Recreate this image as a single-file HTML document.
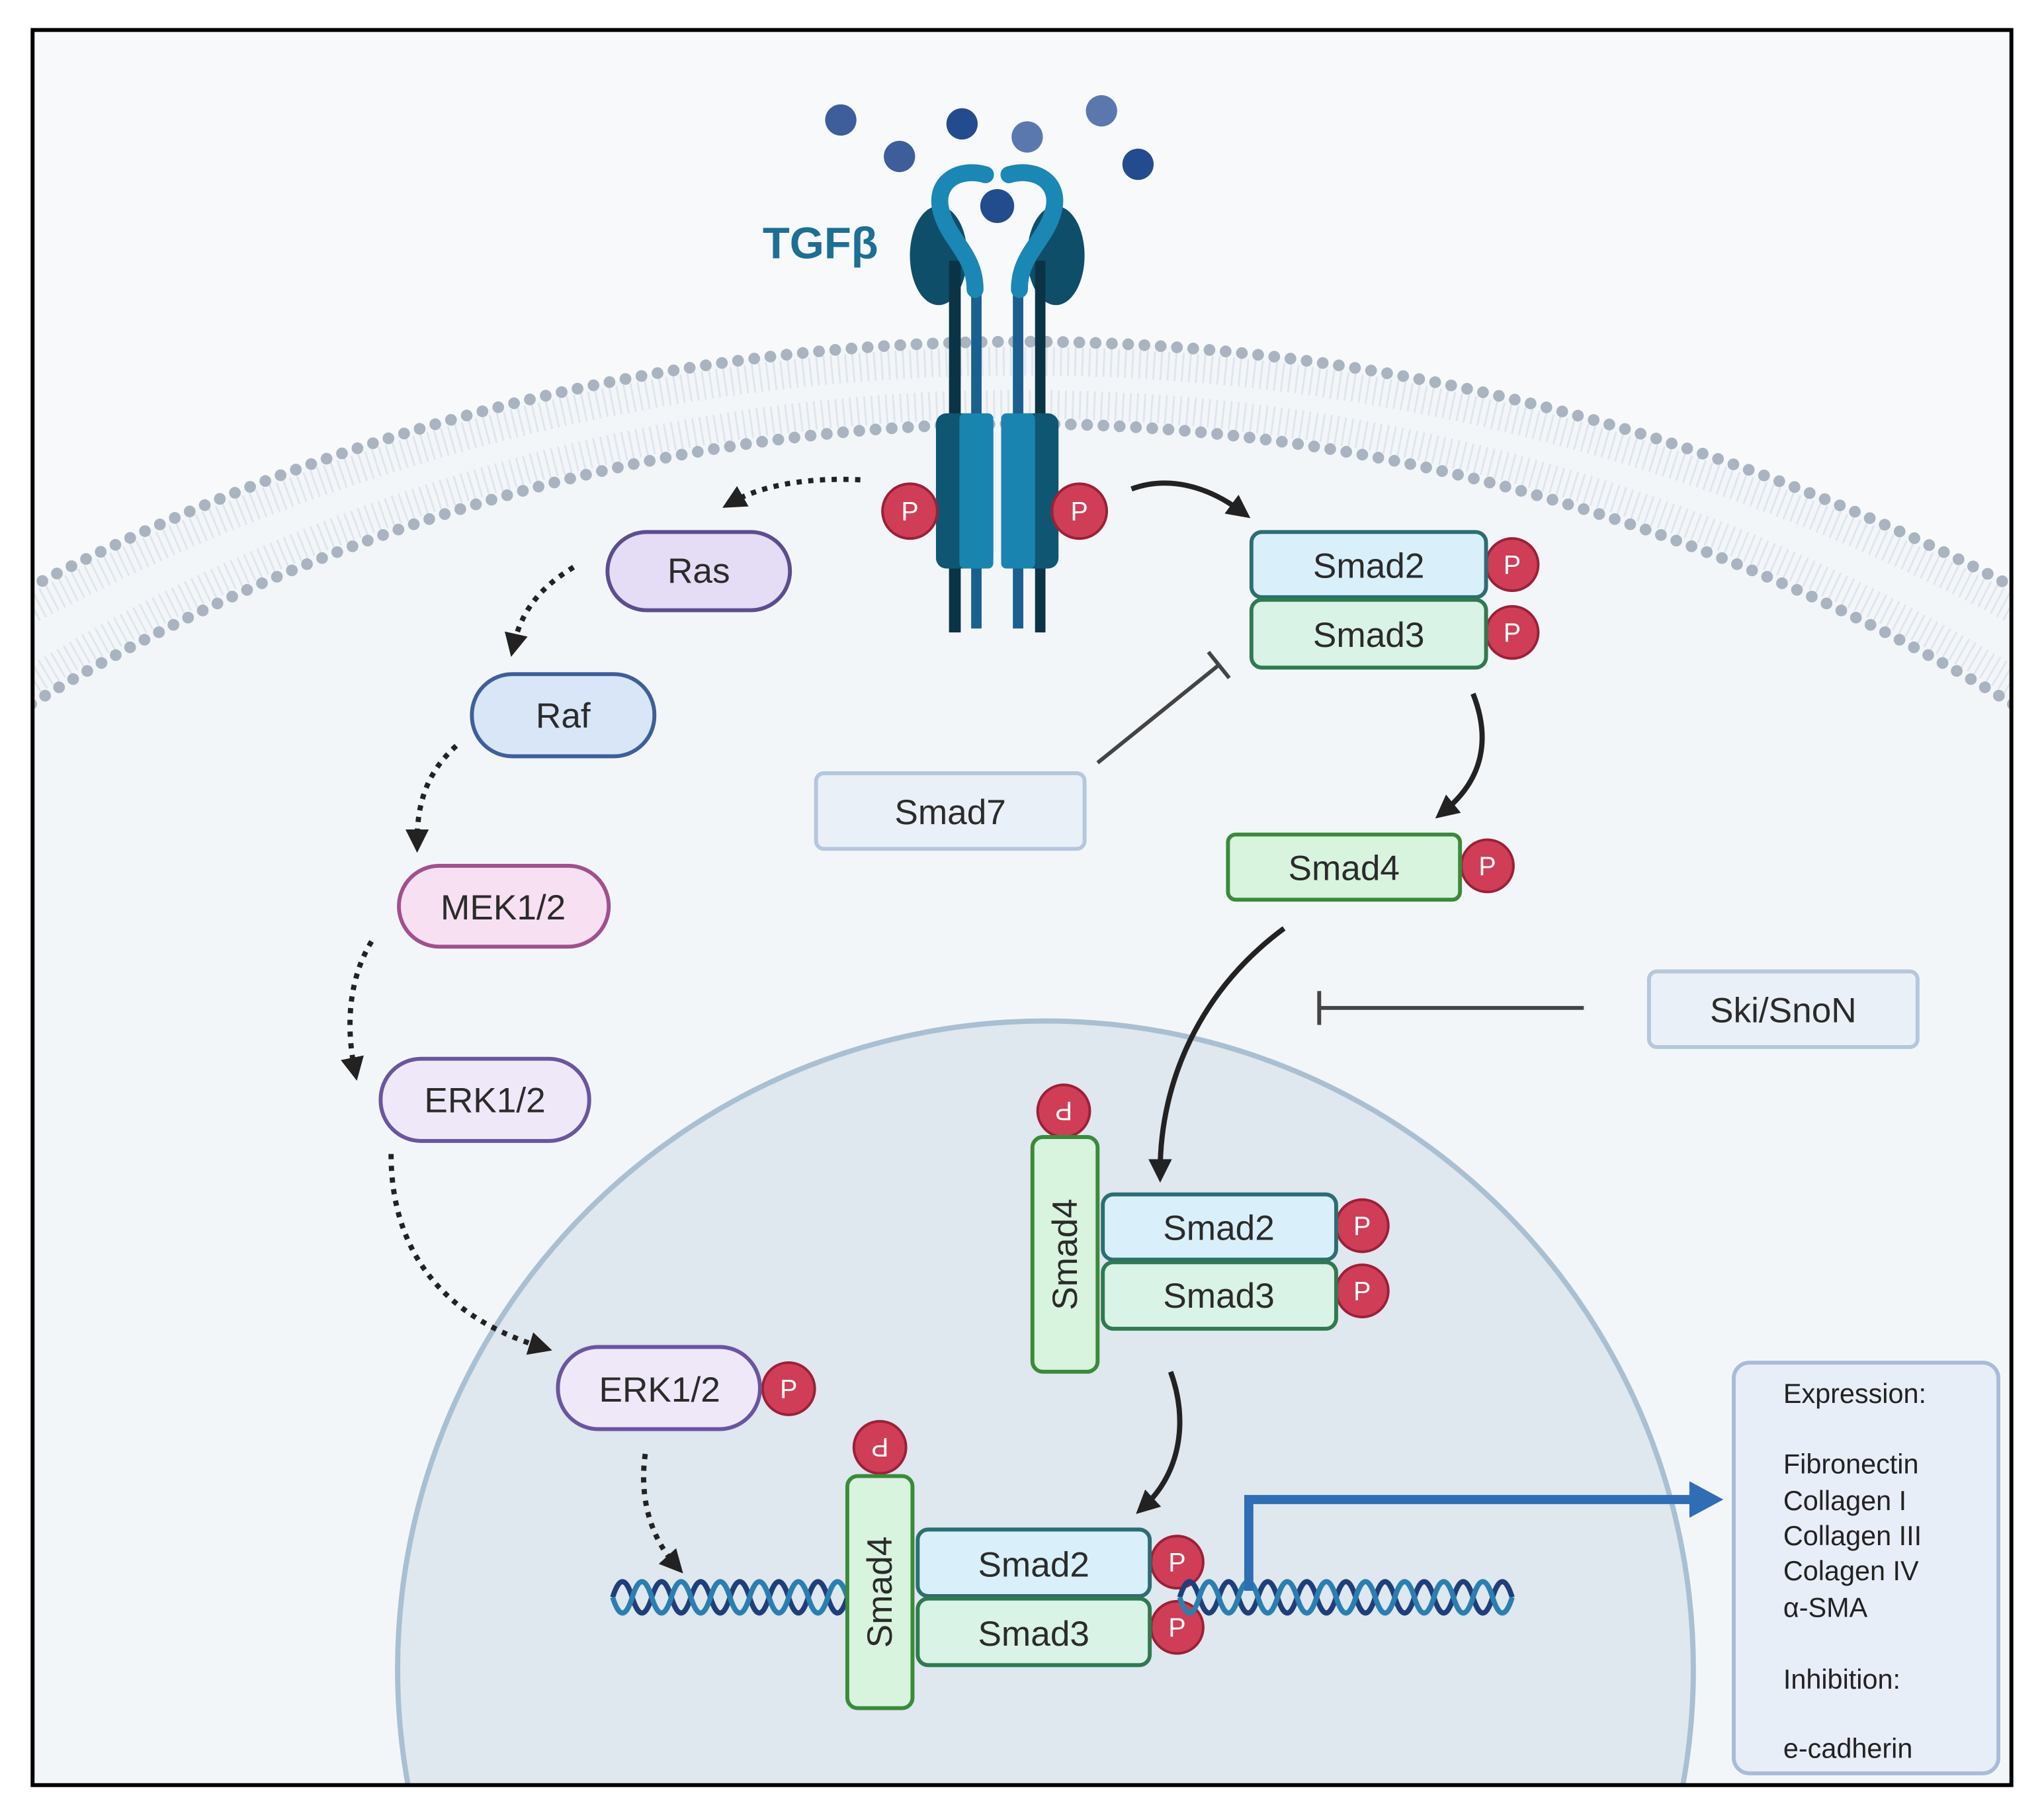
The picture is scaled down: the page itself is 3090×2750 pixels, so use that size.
<!DOCTYPE html>
<html><head><meta charset="utf-8"><style>
html,body{margin:0;padding:0;background:#fff;width:3090px;height:2750px;overflow:hidden;}
svg{display:block;}
text{font-family:"Liberation Sans",sans-serif;}
</style></head><body>
<svg width="3090" height="2750" viewBox="0 0 1568 1395" preserveAspectRatio="none" xmlns="http://www.w3.org/2000/svg">
<defs>
<marker id="ahb" markerWidth="18" markerHeight="18" refX="9" refY="9" orient="auto" markerUnits="userSpaceOnUse" viewBox="0 0 18 18">
<path d="M0,0 L18,9 L0,18 Z" fill="#222"/></marker>
<clipPath id="clip"><rect x="25" y="23" width="1518" height="1346"/></clipPath>
</defs>
<rect x="0" y="0" width="1568" height="1395" fill="#fff"/>
<rect x="25" y="23" width="1518" height="1346" fill="#f7f9fb"/>
<g clip-path="url(#clip)">
<circle cx="784" cy="1892" r="1630" fill="#f3f6f9"/>
<circle cx="784" cy="1892" r="1615" fill="none" stroke="#dfe6ed" stroke-width="22" stroke-dasharray="1.5 4"/>
<circle cx="784" cy="1776" r="1466" fill="none" stroke="#dfe6ed" stroke-width="22" stroke-dasharray="1.5 4"/>
<circle cx="784" cy="1892" r="1630" fill="none" stroke="#a9b4c0" stroke-width="9" stroke-linecap="round" stroke-dasharray="0 12.5"/>
<circle cx="784" cy="1776" r="1451" fill="none" stroke="#a9b4c0" stroke-width="9" stroke-linecap="round" stroke-dasharray="0 12.5"/>
<circle cx="802" cy="1280" r="497" fill="#dfe7ef" stroke="#a9bfd2" stroke-width="4"/>
</g>
<rect x="25" y="23" width="1518" height="1346" fill="none" stroke="#000" stroke-width="3"/>

<g fill="#3d5d9b">
<circle cx="645" cy="92" r="12"/><circle cx="690" cy="120" r="12"/><circle cx="738" cy="95" r="12" fill="#234c8e"/>
<circle cx="788" cy="105" r="12" fill="#5a78ad"/><circle cx="845" cy="85" r="12" fill="#5a78ad"/><circle cx="873" cy="126" r="12" fill="#234c8e"/>
<circle cx="765" cy="158" r="13" fill="#234c8e"/>
</g>
<text x="585" y="198" font-size="34" font-weight="bold" fill="#1d6f94">TGFβ</text>

<g>
<ellipse cx="720" cy="196" rx="22" ry="38" fill="#0f4e68"/>
<ellipse cx="810" cy="196" rx="22" ry="38" fill="#0f4e68"/>
<rect x="728" y="200" width="9" height="285" fill="#0a3445"/>
<rect x="794" y="200" width="8" height="285" fill="#0a3445"/>
<rect x="745" y="210" width="8" height="272" fill="#1a5f8f"/>
<rect x="777" y="210" width="8" height="272" fill="#1a5f8f"/>
<path d="M756,134 C735,128 716,140 722,162 C728,185 748,195 748,222" fill="none" stroke="#1b87b5" stroke-width="13" stroke-linecap="round"/>
<path d="M774,134 C795,128 814,140 808,162 C802,185 782,195 782,222" fill="none" stroke="#1b87b5" stroke-width="13" stroke-linecap="round"/>
<rect x="718" y="317" width="44" height="119" rx="8" fill="#0f5673"/>
<rect x="736" y="317" width="26" height="119" rx="4" fill="#1a84b0"/>
<rect x="768" y="317" width="44" height="119" rx="8" fill="#0f5673"/>
<rect x="768" y="317" width="26" height="119" rx="4" fill="#1a84b0"/>
</g>

<g font-size="20" fill="#fff" text-anchor="middle">
<g><circle cx="698" cy="392" r="21" fill="#cf3d56" stroke="#9c2038" stroke-width="2"/><text x="698" y="399">P</text></g>
<g><circle cx="828" cy="392" r="21" fill="#cf3d56" stroke="#9c2038" stroke-width="2"/><text x="828" y="399">P</text></g>
<g><circle cx="1160" cy="433" r="20" fill="#cf3d56" stroke="#9c2038" stroke-width="2"/><text x="1160" y="440">P</text></g>
<g><circle cx="1160" cy="485" r="20" fill="#cf3d56" stroke="#9c2038" stroke-width="2"/><text x="1160" y="492">P</text></g>
<g><circle cx="1141" cy="664" r="20" fill="#cf3d56" stroke="#9c2038" stroke-width="2"/><text x="1141" y="671">P</text></g>
<g><circle cx="816" cy="852" r="20" fill="#cf3d56" stroke="#9c2038" stroke-width="2"/><text x="816" y="859" transform="rotate(180 816 852)">P</text></g>
<g><circle cx="1045" cy="940" r="20" fill="#cf3d56" stroke="#9c2038" stroke-width="2"/><text x="1045" y="947">P</text></g>
<g><circle cx="1045" cy="990" r="20" fill="#cf3d56" stroke="#9c2038" stroke-width="2"/><text x="1045" y="997">P</text></g>
<g><circle cx="605" cy="1065" r="20" fill="#cf3d56" stroke="#9c2038" stroke-width="2"/><text x="605" y="1072">P</text></g>
<g><circle cx="675" cy="1110" r="20" fill="#cf3d56" stroke="#9c2038" stroke-width="2"/><text x="675" y="1117" transform="rotate(180 675 1110)">P</text></g>
<g><circle cx="903" cy="1198" r="20" fill="#cf3d56" stroke="#9c2038" stroke-width="2"/><text x="903" y="1205">P</text></g>
<g><circle cx="903" cy="1248" r="20" fill="#cf3d56" stroke="#9c2038" stroke-width="2"/><text x="903" y="1255">P</text></g>
</g>

<g font-size="27" fill="#2b2b2b" text-anchor="middle" stroke-width="3">
<rect x="466" y="408" width="140" height="60" rx="30" fill="#e5dcf5" stroke="#5b4d8f"/><text x="536" y="447">Ras</text>
<rect x="362" y="517" width="140" height="63" rx="31" fill="#d8e6f8" stroke="#3f5f9a"/><text x="432" y="558">Raf</text>
<rect x="306" y="664" width="161" height="62" rx="31" fill="#f6e0f1" stroke="#a0508f"/><text x="386" y="705">MEK1/2</text>
<rect x="292" y="812" width="160" height="63" rx="31" fill="#efe8f8" stroke="#6a55a0"/><text x="372" y="853">ERK1/2</text>
<rect x="428" y="1033" width="155" height="63" rx="31" fill="#efe8f8" stroke="#6a55a0"/><text x="506" y="1075">ERK1/2</text>
</g>

<g font-size="27" fill="#2b2b2b" text-anchor="middle" stroke-width="3">
<rect x="960" y="408" width="180" height="50" rx="8" fill="#d9f0fa" stroke="#2b6e73"/><text x="1050" y="443">Smad2</text>
<rect x="960" y="460" width="180" height="52" rx="8" fill="#d9f3e6" stroke="#2f7a50"/><text x="1050" y="496">Smad3</text>
<rect x="626" y="593" width="206" height="58" rx="6" fill="#eaf0f8" stroke="#b5c7dc"/><text x="729" y="632">Smad7</text>
<rect x="942" y="640" width="178" height="50" rx="6" fill="#d8f3de" stroke="#3b8a3b"/><text x="1031" y="675">Smad4</text>
<rect x="1265" y="745" width="206" height="58" rx="6" fill="#eaf0f8" stroke="#b5c7dc"/><text x="1368" y="784">Ski/SnoN</text>

<rect x="846" y="916" width="179" height="50" rx="8" fill="#d9f0fa" stroke="#2b6e73"/><text x="935" y="951">Smad2</text>
<rect x="846" y="968" width="179" height="51" rx="8" fill="#d9f3e6" stroke="#2f7a50"/><text x="935" y="1003">Smad3</text>
<rect x="792" y="872" width="50" height="180" rx="8" fill="#d8f3de" stroke="#3b8a3b"/><text x="817" y="971" transform="rotate(-90 817 962)">Smad4</text>

<rect x="704" y="1173" width="178" height="51" rx="8" fill="#d9f0fa" stroke="#2b6e73"/><text x="793" y="1209">Smad2</text>
<rect x="704" y="1226" width="178" height="51" rx="8" fill="#d9f3e6" stroke="#2f7a50"/><text x="793" y="1262">Smad3</text>
</g>

<g fill="none" stroke-width="4">
<path d="M470,1225 q7.5,-24 15,0 t15,0 t15,0 t15,0 t15,0 t15,0 t15,0 t15,0 t15,0 t15,0 t15,0 t15,0" stroke="#1f3f7a"/>
<path d="M470,1225 q7.5,24 15,0 t15,0 t15,0 t15,0 t15,0 t15,0 t15,0 t15,0 t15,0 t15,0 t15,0 t15,0" stroke="#2a7fb0"/>
<path d="M905,1225 q7.5,-24 15,0 t15,0 t15,0 t15,0 t15,0 t15,0 t15,0 t15,0 t15,0 t15,0 t15,0 t15,0 t15,0 t15,0 t15,0 t15,0 t15,0" stroke="#1f3f7a"/>
<path d="M905,1225 q7.5,24 15,0 t15,0 t15,0 t15,0 t15,0 t15,0 t15,0 t15,0 t15,0 t15,0 t15,0 t15,0 t15,0 t15,0 t15,0 t15,0 t15,0" stroke="#2a7fb0"/>
</g>
<rect x="650" y="1132" width="50" height="178" rx="8" fill="#d8f3de" stroke="#3b8a3b" stroke-width="3"/>
<text x="675" y="1230" font-size="27" fill="#2b2b2b" text-anchor="middle" transform="rotate(-90 675 1221)">Smad4</text>

<path d="M958,1220 L958,1150 L1300,1150" fill="none" stroke="#2f6db5" stroke-width="7"/>
<path d="M1296,1136 L1322,1150 L1296,1164 Z" fill="#2f6db5"/>

<rect x="1330" y="1045" width="203" height="315" rx="12" fill="#e8eef7" stroke="#a8bcd8" stroke-width="3"/>
<g font-size="21" fill="#222">
<text x="1368" y="1076">Expression:</text>
<text x="1368" y="1130">Fibronectin</text>
<text x="1368" y="1158">Collagen I</text>
<text x="1368" y="1185">Collagen III</text>
<text x="1368" y="1212">Colagen IV</text>
<text x="1368" y="1240">α-SMA</text>
<text x="1368" y="1295">Inhibition:</text>
<text x="1368" y="1348">e-cadherin</text>
</g>

<g fill="none" stroke="#222" stroke-width="4" stroke-dasharray="4 5">
<path d="M660,368 C620,366 585,372 562,385" marker-end="url(#ahb)"/>
<path d="M440,435 C415,450 400,468 394,495" marker-end="url(#ahb)"/>
<path d="M350,572 C330,590 320,612 320,645" marker-end="url(#ahb)"/>
<path d="M285,722 C268,750 265,785 272,820" marker-end="url(#ahb)"/>
<path d="M300,885 C300,960 340,1010 415,1033" marker-end="url(#ahb)"/>
<path d="M495,1115 C490,1150 500,1180 518,1200" marker-end="url(#ahb)"/>
</g>
<g fill="none" stroke="#222" stroke-width="4">
<path d="M868,375 C895,365 925,372 952,392" marker-end="url(#ahb)"/>
<path d="M1130,532 C1145,570 1135,600 1108,622" marker-end="url(#ahb)"/>
<path d="M985,712 C920,760 890,830 890,898" marker-end="url(#ahb)"/>
<path d="M898,1052 C912,1090 905,1130 878,1155" marker-end="url(#ahb)"/>
</g>
<g stroke="#444" stroke-width="3" fill="none">
<path d="M842,585 L935,510"/>
<path d="M927,500 L943,520"/>
<path d="M1215,773 L1012,773"/>
<path d="M1012,760 L1012,786"/>
</g>
</svg>
</body></html>
